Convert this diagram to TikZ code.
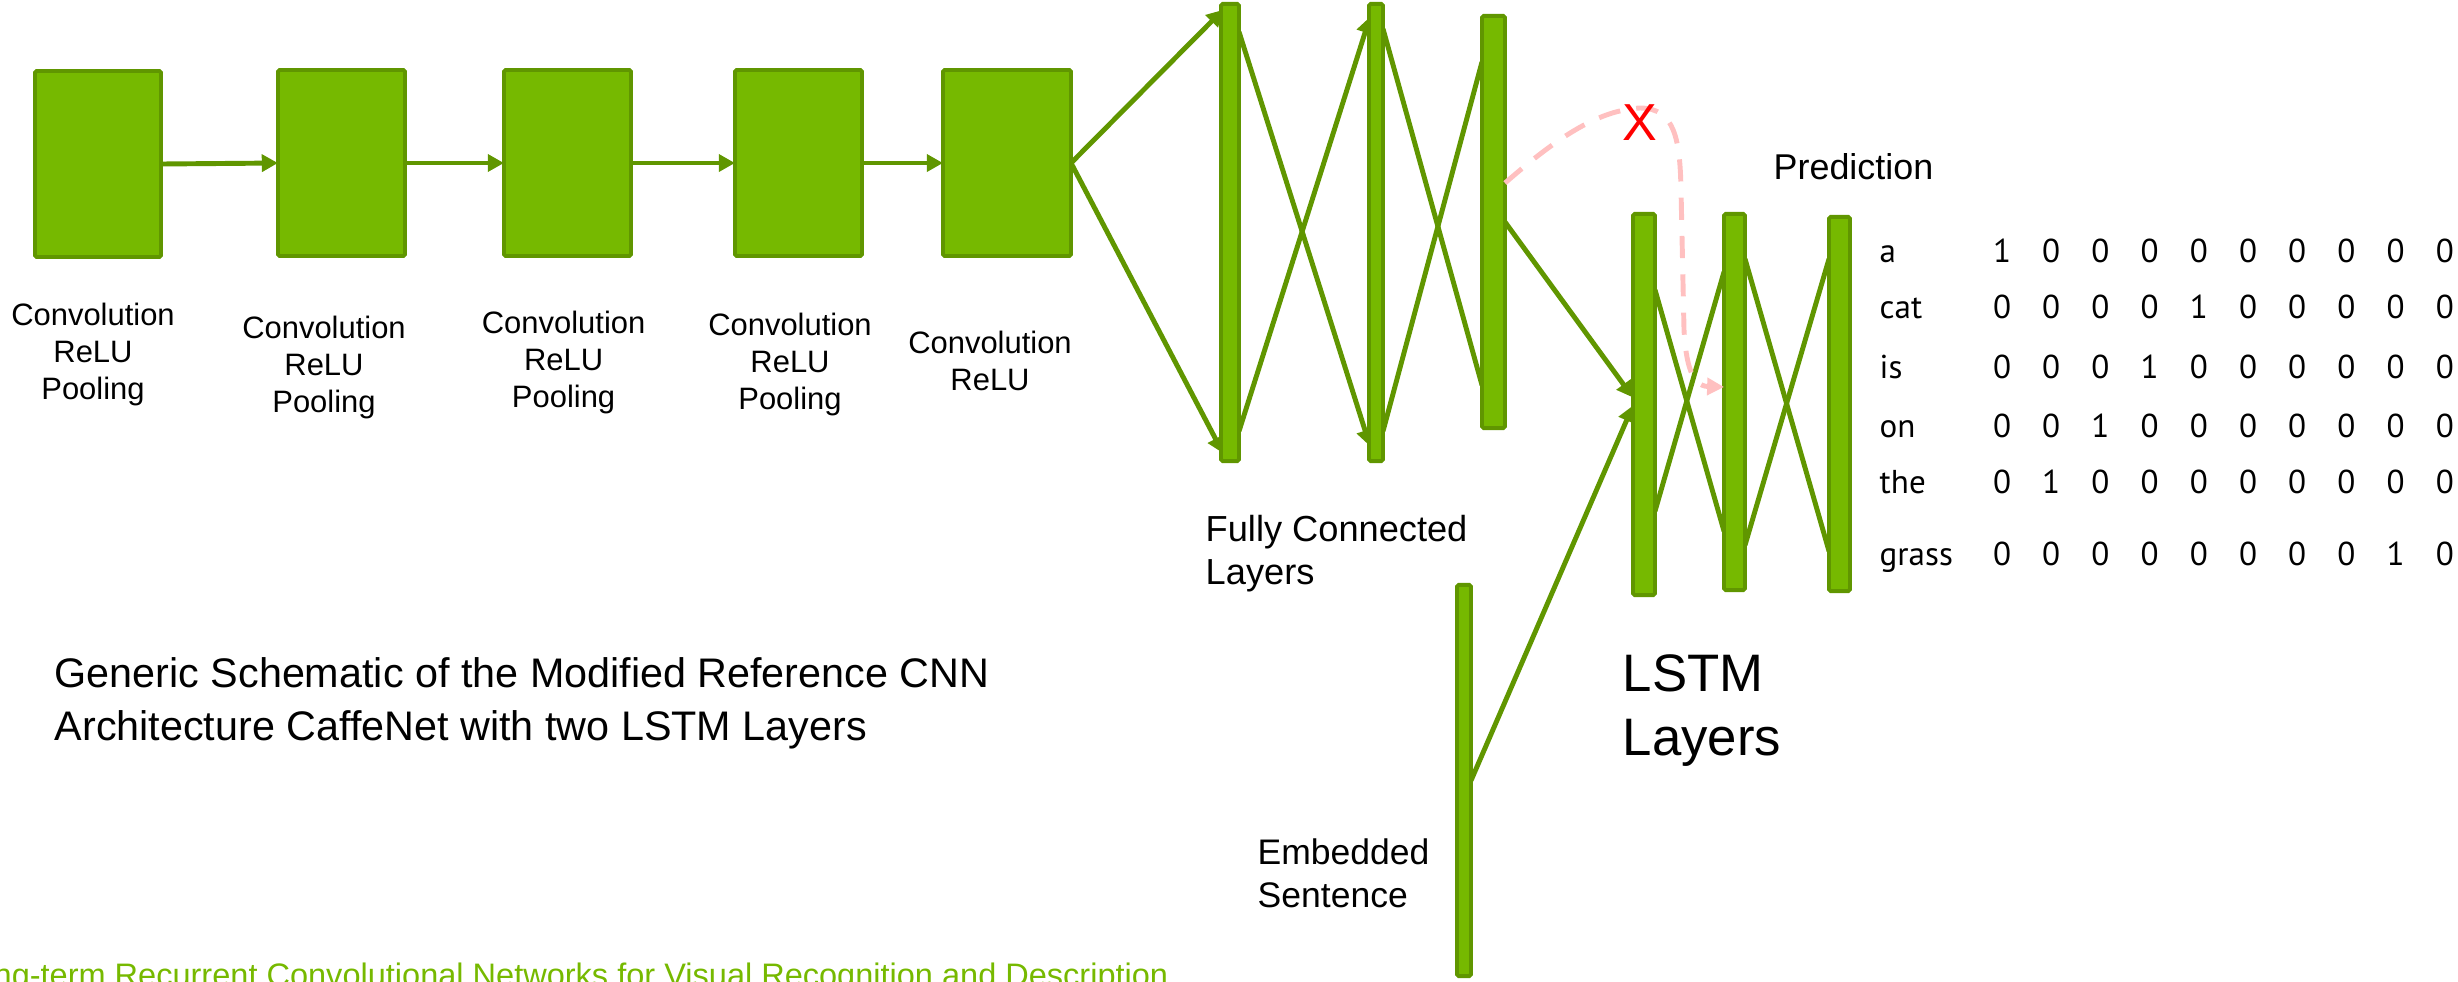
\documentclass[tikz,border=0pt]{standalone}
\usepackage{fontspec}
\setmainfont{Liberation Sans}
\newfontfamily\matfont{PT Sans}
\usetikzlibrary{arrows.meta,calc,backgrounds}
\definecolor{nvgreen}{RGB}{118,185,0}
\definecolor{nvdark}{RGB}{96,150,0}
\definecolor{pinkdash}{RGB}{255,192,192}
\tikzset{
  layerbox/.style={rectangle, draw=nvdark, fill=nvgreen, line width=1.1pt, inner sep=0pt, outer sep=0pt, rounded corners=0.5pt},
  conn/.style={draw=nvdark, line width=1.4pt},
  connarrow/.style={conn, -{Triangle[length=4.6pt,width=4.8pt]}},
  convlbl/.style={inner sep=0pt, align=center, font=\fontsize{8.8}{10.5}\selectfont},
  txt/.style={inner sep=0pt, align=left},
  mat/.style={inner sep=0pt, font=\matfont\fontsize{9.4}{9.4}\selectfont},
  dashconn/.style={draw=pinkdash, line width=1.4pt, dash pattern=on 6.3pt off 4.6pt, -{Triangle[length=4.8pt,width=4.8pt]}}
}
\begin{document}
\begin{tikzpicture}[x=0.01cm, y=-0.01cm]
\useasboundingbox (0,0) rectangle (2458,981);
\clip (0,0) rectangle (2458,981);
% convolution boxes
\node[layerbox, minimum width=1.26cm, minimum height=1.86cm] (c1) at (98,164) {};
\node[layerbox, minimum width=1.27cm, minimum height=1.86cm] (c2) at (341.5,163) {};
\node[layerbox, minimum width=1.27cm, minimum height=1.86cm] (c3) at (567.5,163) {};
\node[layerbox, minimum width=1.27cm, minimum height=1.86cm] (c4) at (798.5,163) {};
\node[layerbox, minimum width=1.28cm, minimum height=1.86cm] (c5) at (1007,163) {};
% fully connected
\node[layerbox, minimum width=0.18cm, minimum height=4.57cm] (fc1) at (1230,232.5) {};
\node[layerbox, minimum width=0.14cm, minimum height=4.57cm] (fc2) at (1376,232.5) {};
\node[layerbox, minimum width=0.23cm, minimum height=4.12cm] (fc3) at (1493.5,222) {};
% lstm
\node[layerbox, minimum width=0.22cm, minimum height=3.81cm] (lstm1) at (1644,404.5) {};
\node[layerbox, minimum width=0.21cm, minimum height=3.76cm] (lstm2) at (1734.5,402) {};
\node[layerbox, minimum width=0.21cm, minimum height=3.74cm] (lstm3) at (1839.5,404) {};
% embedded sentence
\node[layerbox, minimum width=0.14cm, minimum height=3.91cm] (emb) at (1464,780.5) {};

\begin{scope}[on background layer]
\draw[connarrow] (c1.east) -- (c2.west);
\draw[connarrow] (c2.east) -- (c3.west);
\draw[connarrow] (c3.east) -- (c4.west);
\draw[connarrow] (c4.east) -- (c5.west);
\draw[connarrow] (c5.east) -- ($(fc1.north west)+(2,6)$);
\draw[connarrow] (c5.east) -- ($(fc1.south west)+(2,-8)$);
\draw[connarrow] ($(fc1.north east)+(0,28)$) -- ($(fc2.south west)+(1,-15)$);
\draw[connarrow] ($(fc1.south east)+(0,-30)$) -- ($(fc2.north west)+(1,13)$);
\draw[conn] ($(fc2.north east)+(0,25)$) -- ($(fc3.south west)+(0,-43)$);
\draw[conn] ($(fc2.south east)+(0,-30)$) -- ($(fc3.north west)+(0,46)$);
\draw[connarrow] (fc3.east) -- ($(lstm1.west)+(0,-7)$);
\draw[connarrow] (emb.east) -- ($(lstm1.west)+(0,1)$);
\draw[conn] ($(lstm1.north east)+(0,76)$) -- ($(lstm2.south west)+(0,-59)$);
\draw[conn] ($(lstm1.south east)+(0,-84)$) -- ($(lstm2.north west)+(0,58)$);
\draw[conn] ($(lstm2.north east)+(0,45)$) -- ($(lstm3.south west)+(0,-40)$);
\draw[conn] ($(lstm2.south east)+(0,-45)$) -- ($(lstm3.north west)+(0,42)$);
\end{scope}

% dashed removed connection
\draw[dashconn] ($(fc3.east)+(0,-39)$) .. controls (1560,135) and (1600,110) .. (1640,108)
  .. controls (1675,108) and (1680,140) .. (1681,190) -- (1684,330)
  .. controls (1686,365) and (1692,386) .. ($(lstm2.west)+(0,-15)$);
\node[inner sep=0pt, text=red, font=\fontsize{14.8}{14.8}\selectfont] (xmark) at (1640,123) {X};

% labels (base anchor = baseline of the last line)
\node[convlbl, anchor=base] (l1) at (93,399) {Convolution\\ReLU\\Pooling};
\node[convlbl, anchor=base] (l2) at (324,412) {Convolution\\ReLU\\Pooling};
\node[convlbl, anchor=base] (l3) at (563.6,407) {Convolution\\ReLU\\Pooling};
\node[convlbl, anchor=base] (l4) at (790,409) {Convolution\\ReLU\\Pooling};
\node[convlbl, anchor=base] (l5) at (990,390) {Convolution\\ReLU};
\node[txt, anchor=base west, font=\fontsize{10.3}{11.95}\selectfont] (fcl) at (1205,584) {Fully Connected\\Layers};
\node[txt, anchor=base west, font=\fontsize{10.1}{12.2}\selectfont] (embl) at (1257,907) {Embedded\\Sentence};
\node[txt, anchor=base west, font=\fontsize{15.0}{18.2}\selectfont] (lstml) at (1622,755) {LSTM\\Layers};
\node[txt, anchor=base west, font=\fontsize{10.2}{10.2}\selectfont] (pred) at (1773,179) {Prediction};
\node[txt, anchor=base west, font=\fontsize{11.75}{14.8}\selectfont] (title) at (54,740) {Generic Schematic of the Modified Reference CNN\\Architecture CaffeNet with two LSTM Layers};
\node[inner sep=0pt, anchor=base east, text=nvgreen, font=\fontsize{9.25}{9.25}\selectfont] (ref) at (1169,986) {Long-term Recurrent Convolutional Networks for Visual Recognition and Description};

% prediction matrix
\foreach \w/\yy/\one in {a/262/1, cat/318/5, is/378/4, on/437/3, the/493/2, grass/565/9} {
  \node[mat, anchor=base west] (w-\w) at (1879,\yy) {\w};
  \foreach \i in {1,...,10} {
    \node[mat, anchor=base] (d-\w-\i) at ({2002+49.2*(\i-1)},\yy) {\ifnum\i=\one\relax 1\else 0\fi};
  }
}
\end{tikzpicture}
\end{document}
